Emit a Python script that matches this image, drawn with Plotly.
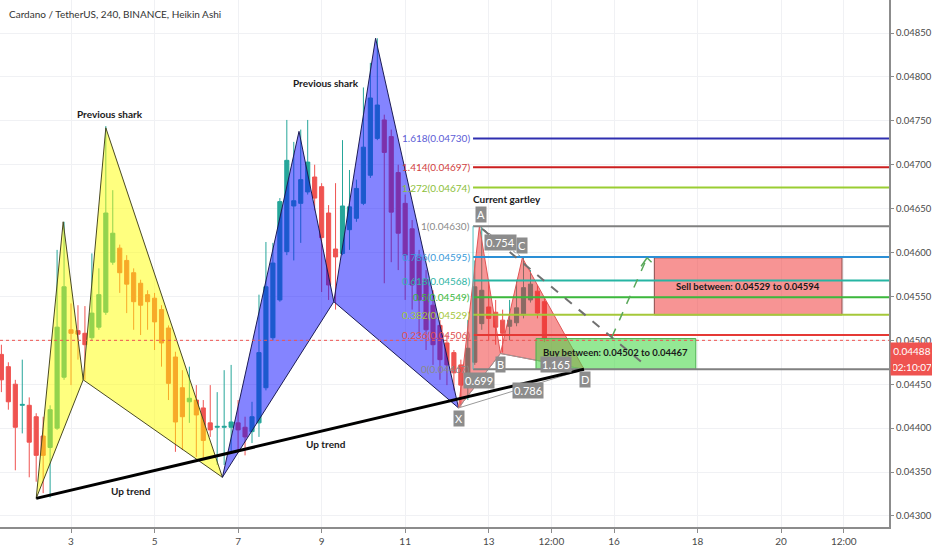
import plotly.graph_objects as go
import pandas as pd

# ---------------- data ----------------
times = pd.date_range("2019-02-01 08:00", periods=79, freq="4h")

opens = [0.04484,0.04470,0.04450,0.04426,0.04426,0.04413,0.04391,0.04378,0.04400,0.04458,
         0.04512,0.04511,0.04508,0.04503,0.04515,0.04532,0.04589,0.04605,0.04591,0.04577,
         0.04565,0.04552,0.04548,0.04535,0.04514,0.04481,0.04446,0.04430,0.04432,0.04423,
         0.04406,0.04401,0.04401,0.04401,0.04406,0.04401,0.04396,0.04406,0.04446,0.04503,
         0.04546,0.04601,0.04653,0.04656,0.04669,0.04686,0.04675,0.04645,0.04604,0.04599,
         0.04626,0.04639,0.04656,0.04688,0.04730,0.04751,0.04732,0.04691,0.04656,0.04627,
         0.04595,0.04569,0.04540,0.04517,0.04497,0.04486,0.04472,0.04460,0.04475,0.04519,
         0.04538,0.04532,0.04523,0.04516,0.04520,0.04529,0.04546,0.04556,0.04544]
highs = [0.04495,0.04475,0.04455,0.04478,0.04435,0.04417,0.04413,0.04426,0.04603,0.04635,
         0.04542,0.04540,0.04539,0.04599,0.04582,0.04744,0.04671,0.04609,0.04597,0.04582,
         0.04569,0.04557,0.04554,0.04540,0.04517,0.04487,0.04466,0.04470,0.04449,0.04432,
         0.04449,0.04441,0.04466,0.04472,0.04432,0.04413,0.04430,0.04552,0.04612,0.04611,
         0.04662,0.04751,0.04726,0.04740,0.04751,0.04700,0.04679,0.04654,0.04679,0.04728,
         0.04694,0.04683,0.04788,0.04816,0.04844,0.04757,0.04740,0.04700,0.04666,0.04637,
         0.04603,0.04580,0.04557,0.04523,0.04506,0.04489,0.04478,0.04523,0.04591,0.04630,
         0.04569,0.04546,0.04535,0.04546,0.04569,0.04594,0.04580,0.04563,0.04548]
lows = [0.04441,0.04421,0.04352,0.04394,0.04344,0.04339,0.04326,0.04321,0.04398,0.04455,
        0.04449,0.04478,0.04455,0.04500,0.04512,0.04529,0.04586,0.04554,0.04531,0.04512,
        0.04506,0.04512,0.04489,0.04470,0.04432,0.04373,0.04375,0.04406,0.04367,0.04366,
        0.04390,0.04358,0.04358,0.04372,0.04372,0.04369,0.04383,0.04390,0.04443,0.04500,
        0.04544,0.04597,0.04591,0.04611,0.04666,0.04648,0.04555,0.04546,0.04535,0.04597,
        0.04603,0.04635,0.04654,0.04685,0.04728,0.04565,0.04589,0.04580,0.04546,0.04535,
        0.04506,0.04489,0.04472,0.04455,0.04449,0.04443,0.04424,0.04432,0.04472,0.04512,
        0.04500,0.04495,0.04486,0.04500,0.04516,0.04525,0.04543,0.04525,0.04498]
closes = [0.04455,0.04430,0.04401,0.04427,0.04384,0.04369,0.04369,0.04421,0.04515,0.04561,
          0.04508,0.04507,0.04495,0.04531,0.04552,0.04645,0.04622,0.04577,0.04564,0.04544,
          0.04540,0.04544,0.04521,0.04497,0.04451,0.04407,0.04413,0.04434,0.04415,0.04386,
          0.04398,0.04402,0.04402,0.04407,0.04398,0.04390,0.04413,0.04486,0.04561,0.04588,
          0.04658,0.04705,0.04659,0.04683,0.04703,0.04662,0.04617,0.04563,0.04595,0.04653,
          0.04652,0.04673,0.04720,0.04776,0.04768,0.04714,0.04646,0.04622,0.04597,0.04563,
          0.04546,0.04512,0.04495,0.04478,0.04472,0.04463,0.04449,0.04491,0.04561,0.04557,
          0.04525,0.04515,0.04508,0.04523,0.04537,0.04560,0.04564,0.04531,0.04502]

# harmonic pattern pivots X, A, B, C, D
shark1_t = ["2019-02-02 04:00", "2019-02-02 19:30", "2019-02-03 07:00", "2019-02-03 20:00", "2019-02-06 15:00"]
shark1_p = [0.04320, 0.04635, 0.04455, 0.04742, 0.04344]
shark2_t = ["2019-02-06 15:00", "2019-02-08 11:00", "2019-02-09 07:00", "2019-02-10 07:00", "2019-02-12 06:40"]
shark2_p = [0.04344, 0.04738, 0.04544, 0.04844, 0.04423]
gart_t = ["2019-02-12 06:40", "2019-02-12 18:40", "2019-02-13 06:45", "2019-02-13 19:20", "2019-02-15 06:45"]
gart_p = [0.04423, 0.04630, 0.04485, 0.04594, 0.04467]

# fibonacci levels
fib_ratios = ["1.618", "1.414", "1.272", "1", "0.786", "0.618", "0.5", "0.382", "0.236", "0"]
fib_prices = [0.04730, 0.04697, 0.04674, 0.04630, 0.04595, 0.04568, 0.04549, 0.04529, 0.04506, 0.04467]
fib_line_colors = ["#2f2fb0", "#cc1f1f", "#9acd32", "#808080", "#2b8fd6", "#26b5a3", "#3cb93c", "#a5c83a", "#e53935", "#808080"]
fib_text_colors = ["#5c5cd6", "#d04040", "#8cc03a", "#8a8a8a", "#3a9ad9", "#2fb5a5", "#3cb93c", "#a5c83a", "#e05050", "#8a8a8a"]
fib_start = "2019-02-12 15:00"

# zones
sell_t = ["2019-02-16 23:10", "2019-02-21 11:00"]
sell_p = [0.04529, 0.04594]
buy_t = ["2019-02-14 03:10", "2019-02-17 23:00"]
buy_p = [0.04467, 0.04502]

# projected path
path_t = ["2019-02-12 20:10", "2019-02-16 18:20"]
path_p = [0.04627, 0.04471]
up_t = ["2019-02-15 22:50", "2019-02-16 19:00"]
up_p = [0.04504, 0.04594]

last_price = 0.04488
last_line = 0.04500

x_range = ["2019-02-01 07:12", "2019-02-22 14:00"]
y_range = [0.042874, 0.048876]
tick_vals = ["2019-02-03", "2019-02-05", "2019-02-07", "2019-02-09", "2019-02-11", "2019-02-13",
             "2019-02-14 12:00", "2019-02-16", "2019-02-18", "2019-02-20", "2019-02-21 12:00"]
tick_text = ["3", "5", "7", "9", "11", "13", "12:00", "16", "18", "20", "12:00"]
y_ticks = [0.0430 + 0.0005 * i for i in range(12)]

FONT = "Lato"

fig = go.Figure()

fig.add_trace(go.Candlestick(
    x=times, open=opens, high=highs, low=lows, close=closes,
    increasing=dict(line=dict(color="#26a69a", width=1), fillcolor="#26a69a"),
    decreasing=dict(line=dict(color="#ef5350", width=1), fillcolor="#ef5350"),
    whiskerwidth=0, showlegend=False, hoverinfo="skip"))


def tri(ts, ps, idx, fill, line):
    xs = [ts[i] for i in idx] + [ts[idx[0]]]
    ys = [ps[i] for i in idx] + [ps[idx[0]]]
    fig.add_trace(go.Scatter(x=xs, y=ys, mode="lines", fill="toself", fillcolor=fill,
                             line=dict(color=line, width=1), showlegend=False, hoverinfo="skip"))


tri(shark1_t, shark1_p, [0, 1, 2], "rgba(255,255,0,0.5)", "#4a4a22")
tri(shark1_t, shark1_p, [2, 3, 4], "rgba(255,255,0,0.5)", "#4a4a22")
tri(shark2_t, shark2_p, [0, 1, 2], "rgba(20,20,255,0.52)", "#1c1c55")
tri(shark2_t, shark2_p, [2, 3, 4], "rgba(20,20,255,0.52)", "#1c1c55")
tri(gart_t, gart_p, [0, 1, 2], "rgba(240,45,45,0.5)", "#e05555")
tri(gart_t, gart_p, [2, 3, 4], "rgba(240,45,45,0.5)", "#e05555")

shapes = []
annotations = []

# gartley ratio lines
for a, b in [(0, 2), (0, 4), (2, 4)]:
    shapes.append(dict(type="line", x0=gart_t[a], y0=gart_p[a], x1=gart_t[b], y1=gart_p[b],
                       line=dict(color="#9a9a9a", width=1), layer="above"))
shapes.append(dict(type="line", x0=gart_t[1], y0=gart_p[1], x1=gart_t[3], y1=gart_p[3],
                   line=dict(color="#8a8a8a", width=1, dash="dot"), layer="above"))

# zones
shapes.append(dict(type="rect", x0=sell_t[0], x1=sell_t[1], y0=sell_p[0], y1=sell_p[1],
                   fillcolor="rgba(240,60,60,0.55)", line=dict(color="#8b4a4a", width=1), layer="above"))
shapes.append(dict(type="rect", x0=buy_t[0], x1=buy_t[1], y0=buy_p[0], y1=buy_p[1],
                   fillcolor="rgba(76,217,76,0.6)", line=dict(color="#4caf50", width=1), layer="above"))

# fib lines
for p, c in zip(fib_prices, fib_line_colors):
    shapes.append(dict(type="line", x0=fib_start, x1=x_range[1], y0=p, y1=p,
                       line=dict(color=c, width=2), layer="above"))
shapes.append(dict(type="line", x0=fib_start, x1=fib_start, y0=fib_prices[3], y1=fib_prices[-1],
                   line=dict(color="#4fc3c3", width=1), layer="above"))

# last price dotted line
shapes.append(dict(type="line", xref="paper", x0=0, x1=1, y0=last_line, y1=last_line,
                   line=dict(color="#ef5350", width=1, dash="dot"), layer="above"))

# trend line
shapes.append(dict(type="line", x0=shark1_t[0], y0=shark1_p[0], x1=gart_t[4], y1=gart_p[4],
                   line=dict(color="#000000", width=3), layer="above"))

# projected path
shapes.append(dict(type="line", x0=path_t[0], y0=path_p[0], x1=path_t[1], y1=path_p[1],
                   line=dict(color="#707070", width=2, dash="dash"), layer="above"))
shapes.append(dict(type="line", x0=up_t[0], y0=up_p[0], x1=up_t[1], y1=up_p[1],
                   line=dict(color="#5aa85a", width=1.5, dash="dash"), layer="above"))
annotations.append(dict(x=up_t[1], y=up_p[1], ax=-7, ay=10, text="", showarrow=True,
                        arrowhead=0, arrowcolor="#5aa85a", arrowwidth=1.5, xref="x", yref="y"))
annotations.append(dict(x=up_t[1], y=up_p[1], ax=6, ay=6, text="", showarrow=True,
                        arrowhead=0, arrowcolor="#5aa85a", arrowwidth=1.5, xref="x", yref="y"))

# fib labels
for r, p, c in zip(fib_ratios, fib_prices, fib_text_colors):
    annotations.append(dict(x=fib_start, y=p, text=f"{r}({p:.5f})", showarrow=False,
                            xanchor="right", yanchor="middle", xshift=-1,
                            font=dict(family=FONT, size=10, color=c)))

# zone texts
annotations.append(dict(x=pd.Timestamp(sell_t[0]) + (pd.Timestamp(sell_t[1]) - pd.Timestamp(sell_t[0])) / 2,
                        y=(sell_p[0] + sell_p[1]) / 2, text="<b>Sell between: 0.04529 to 0.04594</b>",
                        showarrow=False, font=dict(family=FONT, size=9.5, color="#1a1a1a")))
annotations.append(dict(x=pd.Timestamp(buy_t[0]) + (pd.Timestamp(buy_t[1]) - pd.Timestamp(buy_t[0])) / 2,
                        y=(buy_p[0] + buy_p[1]) / 2, yshift=1, text="<b>Buy between: 0.04502 to 0.04467</b>",
                        showarrow=False, font=dict(family=FONT, size=9.5, color="#1a1a1a")))

# text notes
notes = [("Previous shark", "2019-02-03 22:30", 0.04758),
         ("Previous shark", "2019-02-09 02:30", 0.04793),
         ("Current gartley", "2019-02-13 10:30", 0.04661),
         ("Up trend", "2019-02-04 10:30", 0.04328),
         ("Up trend", "2019-02-09 02:30", 0.04382)]
for t, x, y in notes:
    annotations.append(dict(x=x, y=y, text=f"<b>{t}</b>", showarrow=False,
                            font=dict(family=FONT, size=10, color="#1a1a1a")))

# point / ratio labels
tags = [("A", "2019-02-12 19:30", 0.04643), ("C", "2019-02-13 19:00", 0.04608),
        ("0.754", "2019-02-13 07:00", 0.04611), ("B", "2019-02-13 07:00", 0.04473),
        ("0.699", "2019-02-12 18:25", 0.04454), ("0.786", "2019-02-13 22:30", 0.04443),
        ("D", "2019-02-15 07:20", 0.04455), ("X", "2019-02-12 07:00", 0.04411),
        ("1.165", "2019-02-14 14:40", 0.04472)]
for t, x, y in tags:
    annotations.append(dict(x=x, y=y, text=t, showarrow=False, bgcolor="#8c8c8c",
                            borderpad=1, font=dict(family=FONT, size=11, color="#ffffff")))

# title
annotations.append(dict(xref="paper", yref="paper", x=0.008, y=1, yshift=-6, xanchor="left",
                        yanchor="top", text="Cardano / TetherUS, 240, BINANCE, Heikin Ashi",
                        showarrow=False, font=dict(family=FONT, size=10, color="#333333")))

# last price tags on axis
annotations.append(dict(xref="paper", x=1, y=last_price, xanchor="left", yanchor="middle",
                        text="0.04488", showarrow=False, bgcolor="#ef5350", borderpad=2, xshift=1,
                        font=dict(family=FONT, size=10, color="#ffffff"), width=38))
annotations.append(dict(xref="paper", x=1, y=last_price, xanchor="left", yanchor="middle",
                        text="02:10:07", showarrow=False, bgcolor="#ef5350", borderpad=2, xshift=1,
                        yshift=-16, font=dict(family=FONT, size=10, color="#ffffff"), width=38))

fig.update_layout(
    width=932, height=550,
    margin=dict(l=0, r=43, t=0, b=23),
    paper_bgcolor="#ffffff", plot_bgcolor="#ffffff",
    shapes=shapes, annotations=annotations,
    showlegend=False, boxgap=0.15,
    font=dict(family=FONT, size=10, color="#4a4a4a"),
    xaxis=dict(type="date", range=x_range, rangeslider=dict(visible=False),
               tickvals=tick_vals, ticktext=tick_text, showgrid=True, gridcolor="#f0f1f4",
               ticks="outside", ticklen=4, tickcolor="#8c8c8c", showline=True,
               linecolor="#8c8c8c", linewidth=2, zeroline=False,
               tickfont=dict(family=FONT, size=10, color="#4a4a4a")),
    yaxis=dict(range=y_range, side="right", tickvals=y_ticks, tickformat=".5f",
               showgrid=True, gridcolor="#f0f1f4", ticks="outside", ticklen=3,
               tickcolor="#8c8c8c", showline=True, linecolor="#8c8c8c", linewidth=2,
               zeroline=False, tickfont=dict(family=FONT, size=9.5, color="#4a4a4a")),
)

fig.write_html("out.html", config={"displayModeBar": False},
               post_script="document.body.style.margin='0';document.body.style.overflow='hidden';")
